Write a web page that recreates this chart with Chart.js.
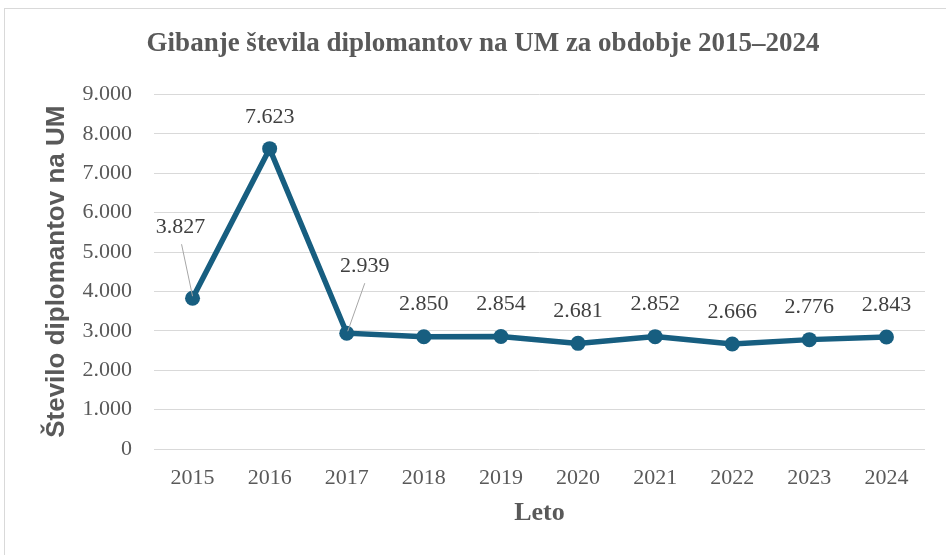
<!DOCTYPE html>
<html>
<head>
<meta charset="utf-8">
<script src="https://cdn.jsdelivr.net/npm/chart.js@4"></script>
<style>
  html, body { margin: 0; padding: 0; background: #fff; }
  #wrap { position: relative; width: 946px; height: 555px; }
</style>
</head>
<body>
<div id="wrap"><canvas id="c" width="946" height="555"></canvas></div>
<script>
// podatki
const years = ['2015','2016','2017','2018','2019','2020','2021','2022','2023','2024'];
const graduates = [3827, 7623, 2939, 2850, 2854, 2681, 2852, 2666, 2776, 2843];
const yTicks = [0, 1000, 2000, 3000, 4000, 5000, 6000, 7000, 8000, 9000];

const LINE = '#175e80';
const fmt = v => v.toLocaleString('de-DE');

// label offsets (dx, dy) relative to point; leader = thin line to the point
const labelPos = [
    { dx: -12, dy: -71, leader: true },
    { dx: 0, dy: -31 },
    { dx: 18, dy: -67, leader: true },
];

const frame = {
    id: 'frame',
    beforeDraw(chart) {
        const c = chart.ctx;
        c.save();
        c.strokeStyle = '#d9d9d9';
        c.lineWidth = 1;
        c.strokeRect(4.5, 8.5, 1200, 1200);
        c.restore();
    }
};

const dataLabels = {
    id: 'dataLabels',
    afterDatasetsDraw(chart) {
        const c = chart.ctx;
        const meta = chart.getDatasetMeta(0);
        c.save();
        c.font = '22px "Liberation Serif", serif';
        c.fillStyle = '#404040';
        c.textAlign = 'center';
        c.textBaseline = 'middle';
        meta.data.forEach((pt, i) => {
            const p = labelPos[i] || { dx: 0, dy: -32 };
            const lx = pt.x + p.dx, ly = pt.y + p.dy;
            if (p.leader) {
                c.strokeStyle = '#a6a6a6';
                c.lineWidth = 1;
                c.beginPath();
                c.moveTo(lx + (p.dx < 0 ? 1 : 0), ly + 17);
                c.lineTo(pt.x + (p.dx > 0 ? 1 : 0), pt.y - 2);
                c.stroke();
            }
            c.fillText(fmt(graduates[i]), lx, ly);
        });
        c.restore();
    }
};

new Chart(document.getElementById('c'), {
    type: 'line',
    data: {
        labels: years,
        datasets: [{
            data: graduates,
            borderColor: LINE,
            backgroundColor: LINE,
            borderWidth: 5.5,
            pointRadius: 7.5,
            pointBackgroundColor: LINE,
            pointBorderWidth: 0,
            tension: 0
        }]
    },
    options: {
        responsive: false,
        animation: false,
        layout: { padding: { left: 41, right: 21, top: 0, bottom: 26 } },
        plugins: {
            legend: { display: false },
            tooltip: { enabled: false },
            title: {
                display: true,
                text: 'Gibanje števila diplomantov na UM za obdobje 2015–2024',
                color: '#595959',
                font: { family: '"Liberation Serif", serif', size: 27, weight: 'bold' },
                padding: { top: 28, bottom: 34 }
            }
        },
        scales: {
            x: {
                offset: true,
                afterFit: s => { s.height = 80; },
                grid: { display: false, drawTicks: false },
                border: { display: false },
                ticks: {
                    color: '#595959',
                    padding: 16,
                    font: { family: '"Liberation Serif", serif', size: 22 }
                },
                title: {
                    display: true,
                    text: 'Leto',
                    color: '#595959',
                    font: { family: '"Liberation Serif", serif', size: 26, weight: 'bold' },
                    padding: { top: 10, bottom: 0 }
                }
            },
            y: {
                min: 0,
                max: 9000,
                afterBuildTicks: s => { s.ticks = yTicks.map(v => ({ value: v })); },
                afterFit: s => { s.width = 113; },
                grid: { color: '#d9d9d9', lineWidth: 1, drawTicks: false },
                border: { display: false },
                ticks: {
                    color: '#595959',
                    padding: 22,
                    font: { family: '"Liberation Serif", serif', size: 22 },
                    callback: v => fmt(v)
                },
                title: {
                    display: true,
                    text: 'Število diplomantov na UM',
                    color: '#595959',
                    font: { family: '"Liberation Sans", Arial, sans-serif', size: 26, weight: 'bold' },
                    padding: { top: 0, bottom: 0 }
                }
            }
        }
    },
    plugins: [frame, dataLabels]
});
</script>
</body>
</html>
